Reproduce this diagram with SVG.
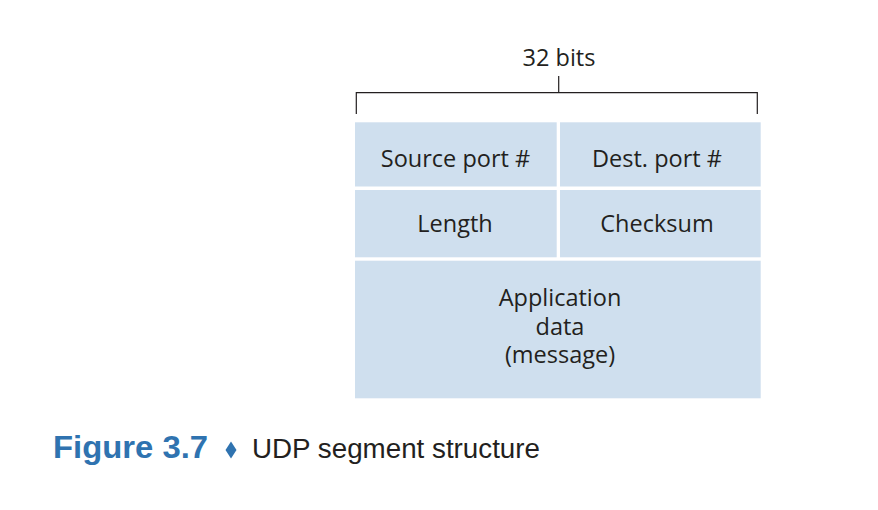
<svg xmlns="http://www.w3.org/2000/svg" width="878" height="510" viewBox="0 0 878 510">
<style>
.cell{fill:#cfdfee;}
.t{font-family:"Open Sans","Noto Sans",sans-serif;font-size:23.5px;fill:#231f20;text-anchor:middle;}
.br{stroke:#231f20;stroke-width:1.2;fill:none;}
.cap{font-family:"Liberation Sans",Arial,sans-serif;font-size:27px;fill:#231f20;}
.fig{font-family:"Liberation Sans",Arial,sans-serif;font-size:31px;font-weight:bold;fill:#2f73b0;}
</style>
<rect width="878" height="510" fill="#ffffff"/>
<g id="connectors">
<path class="br" d="M356.3,114 V92.7 H757.3 V114"/>
<path class="br" d="M558.7,76 V92.7"/>
</g>
<text class="t" x="559" y="66">32 bits</text>
<g id="source-port">
<rect class="cell" x="355" y="122.3" width="201.7" height="64.2"/>
<text class="t" x="455.5" y="167">Source port #</text>
</g>
<g id="dest-port">
<rect class="cell" x="560" y="122.3" width="200.7" height="64.2"/>
<text class="t" x="657" y="167">Dest. port #</text>
</g>
<g id="length">
<rect class="cell" x="355" y="190" width="201.7" height="67.3"/>
<text class="t" x="455" y="231.7">Length</text>
</g>
<g id="checksum">
<rect class="cell" x="560" y="190" width="200.7" height="67.3"/>
<text class="t" x="657" y="231.7">Checksum</text>
</g>
<g id="app-data">
<rect class="cell" x="355" y="260.7" width="405.7" height="137.6"/>
<text class="t" x="560" y="306">Application</text>
<text class="t" x="560" y="335">data</text>
<text class="t" x="560" y="363.3">(message)</text>
</g>
<text class="fig" x="53" y="458" textLength="155" lengthAdjust="spacingAndGlyphs">Figure 3.7</text>
<path d="M231,441.5 L236.5,450 L231,458.5 L225.5,450 Z" fill="#2f73b0"/>
<text class="cap" x="252" y="458" textLength="288" lengthAdjust="spacingAndGlyphs">UDP segment structure</text>
</svg>
